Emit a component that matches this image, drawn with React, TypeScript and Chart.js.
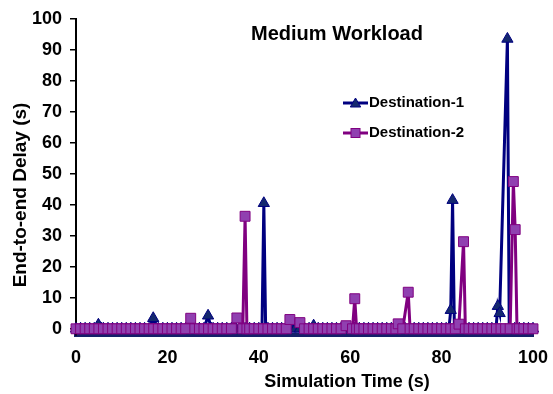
import { useEffect, useRef } from 'react';
import { Chart, registerables } from 'chart.js';

Chart.register(...registerables);

// Delay samples as [simulation time (s), end-to-end delay (s)]
const destination1: [number, number][] = [
  [0, 0], [1, 0], [2, 0], [3, 0], [4, 0], [4.9, 1.3], [5.6, 0], [6, 0], [7, 0], [8, 0], [9, 0],
  [10, 0], [11, 0], [12, 0], [13, 0], [14, 0], [15, 0], [16, 0], [16.9, 3.4], [17.6, 0], [18, 0], [19, 0],
  [20, 0], [21, 0], [22, 0], [23, 0], [24, 0], [25, 0], [26, 0], [27, 0], [28, 0], [28.9, 4.2], [29.6, 0],
  [30, 0], [31, 0], [32, 0], [33, 0], [34, 0], [35, 0], [36, 0], [37, 0], [38, 0], [39, 0],
  [40, 0], [40.7, 0], [41.1, 40.5], [41.5, 0], [42, 0], [43, 0], [44, 0], [45, 0], [46, 0], [47, 0], [48, 0], [49, 0],
  [50, 0], [51, 0], [52, 1], [53, 0], [54, 0], [55, 0], [56, 0], [57, 0], [58, 0], [59, 0],
  [60, 0], [61, 0], [62, 0], [63, 0], [64, 0], [65, 0], [66, 0], [67, 0], [68, 0], [69, 0],
  [70, 0], [71, 0], [72, 0], [73, 0], [74, 0], [75, 0], [76, 0], [77, 0], [78, 0], [79, 0],
  [80, 0], [81, 0], [81.6, 0], [82, 6], [82.4, 41.5], [82.8, 0], [83, 0], [84, 0], [85, 0], [86, 0], [87, 0], [88, 0], [89, 0],
  [90, 0], [91, 0], [91.9, 0], [92.3, 7.3], [92.7, 5], [94.4, 93.5], [94.8, 0], [95, 0], [96, 0], [97, 0], [98, 0], [99, 0],
  [100, 0],
];

const destination2: [number, number][] = [
  [0, 0], [1, 0], [2, 0], [3, 0], [4, 0], [5, 0], [6, 0], [7, 0], [8, 0], [9, 0],
  [10, 0], [11, 0], [12, 0], [13, 0], [14, 0], [15, 0], [16, 0], [17, 0], [18, 0], [19, 0],
  [20, 0], [21, 0], [22, 0], [23, 0], [24, 0], [25.1, 3.4], [26, 0], [27, 0], [28, 0], [29, 0],
  [30, 0], [31, 0], [32, 0], [33, 0], [34, 0], [35.2, 3.5], [36.5, 0], [37, 36.3], [37.4, 0], [38, 0], [39, 0],
  [40, 0], [41, 0], [42, 0], [43, 0], [44, 0], [45, 0], [46, 0], [46.8, 3], [49, 2],
  [50, 0], [51, 0], [52, 0], [53, 0], [54, 0], [55, 0], [56, 0], [57, 0], [58, 0], [59.1, 1], [60.5, 0], [61, 9.7], [61.4, 0],
  [62, 0], [63, 0], [64, 0], [65, 0], [66, 0], [67, 0], [68, 0], [69, 0],
  [70, 0], [70.5, 1.6], [71.5, 0], [72.7, 11.8], [73.1, 0], [74, 0], [75, 0], [76, 0], [77, 0], [78, 0], [79, 0],
  [80, 0], [81, 0], [82, 0], [83, 0], [83.8, 1.5], [84.8, 28.1], [85.2, 0], [86, 0], [87, 0], [88, 0], [89, 0],
  [90, 0], [91, 0], [92, 0], [93, 0], [94, 0], [95, 0], [95.7, 47.5], [96.1, 32], [96.5, 0], [97, 0], [98, 0], [99, 0],
  [100, 0],
];

const seriesNames = ['Destination-1', 'Destination-2'];
const xTickValues = [0, 20, 40, 60, 80, 100];
const yTickValues = [0, 10, 20, 30, 40, 50, 60, 70, 80, 90, 100];
const chartTitle = 'Medium Workload';
const xAxisTitle = 'Simulation Time (s)';
const yAxisTitle = 'End-to-end Delay (s)';

const FONT = '"Liberation Sans", Arial, sans-serif';
const NAVY = '#000080';
const NAVY_FILL = '#14286e';
const PURPLE = '#800080';
const PURPLE_FILL = '#9040b0';

function drawTriangle(ctx: CanvasRenderingContext2D, x: number, y: number, r: number) {
  ctx.beginPath();
  ctx.moveTo(x, y - r);
  ctx.lineTo(x + r * 0.866, y + r * 0.5);
  ctx.lineTo(x - r * 0.866, y + r * 0.5);
  ctx.closePath();
  ctx.fillStyle = NAVY_FILL;
  ctx.fill();
  ctx.lineWidth = 1;
  ctx.strokeStyle = NAVY;
  ctx.stroke();
}

function drawSquare(ctx: CanvasRenderingContext2D, x: number, y: number, half: number) {
  ctx.fillStyle = PURPLE_FILL;
  ctx.fillRect(x - half, y - half, half * 2, half * 2);
  ctx.lineWidth = 1;
  ctx.strokeStyle = PURPLE;
  ctx.strokeRect(x - half, y - half, half * 2, half * 2);
}

// Title, in-plot legend and axis titles
const annotations = {
  id: 'annotations',
  afterDraw(chart: Chart) {
    const ctx = chart.ctx;
    ctx.save();
    ctx.fillStyle = '#000';
    ctx.textBaseline = 'middle';

    ctx.font = `bold 20px ${FONT}`;
    ctx.textAlign = 'center';
    ctx.fillText(chartTitle, 337, 34);

    ctx.font = `bold 18px ${FONT}`;
    ctx.fillText(xAxisTitle, 347, 382);

    ctx.save();
    ctx.translate(21, 195);
    ctx.rotate(-Math.PI / 2);
    ctx.font = `bold 19px ${FONT}`;
    ctx.fillText(yAxisTitle, 0, 0);
    ctx.restore();

    // legend
    const rows = [103, 133];
    const colors = [NAVY, PURPLE];
    ctx.font = `bold 15px ${FONT}`;
    ctx.textAlign = 'left';
    rows.forEach((y, i) => {
      ctx.strokeStyle = colors[i];
      ctx.lineWidth = 3;
      ctx.beginPath();
      ctx.moveTo(343, y);
      ctx.lineTo(368, y);
      ctx.stroke();
      if (i === 0) drawTriangle(ctx, 355.5, y + 1, 6);
      else drawSquare(ctx, 355.5, y, 4.5);
      ctx.fillStyle = '#000';
      ctx.fillText(seriesNames[i], 369, y);
    });
    ctx.restore();
  },
};

export default function App() {
  const canvasRef = useRef<HTMLCanvasElement | null>(null);

  useEffect(() => {
    const canvas = canvasRef.current;
    if (!canvas) return;
    const tickFont = { family: FONT, size: 18, weight: 'bold' as const };
    const chart = new Chart(canvas, {
      type: 'scatter',
      data: {
        datasets: [
          {
            label: seriesNames[1],
            data: destination2.map(([x, y]) => ({ x, y })),
            showLine: true,
            borderColor: PURPLE,
            backgroundColor: PURPLE_FILL,
            borderWidth: 3,
            pointStyle: 'rect',
            pointRadius: 7,
            pointBorderWidth: 1,
            pointBorderColor: PURPLE,
            pointBackgroundColor: PURPLE_FILL,
            clip: false as any,
            order: 0,
          },
          {
            label: seriesNames[0],
            data: destination1.map(([x, y]) => ({ x, y })),
            showLine: true,
            borderColor: NAVY,
            backgroundColor: NAVY_FILL,
            borderWidth: 3,
            pointStyle: 'triangle',
            pointRadius: 6.5,
            pointBorderWidth: 1,
            pointBorderColor: NAVY,
            pointBackgroundColor: NAVY_FILL,
            clip: false as any,
            order: 1,
          },
        ],
      },
      options: {
        animation: false,
        responsive: false,
        devicePixelRatio: 1,
        events: [],
        layout: { padding: { top: 15, right: 20, left: 0, bottom: 0 } },
        plugins: { legend: { display: false }, tooltip: { enabled: false } },
        scales: {
          x: {
            type: 'linear',
            min: 0,
            max: 100,
            afterBuildTicks: (scale: any) => {
              scale.ticks = xTickValues.map((value) => ({ value }));
            },
            afterFit: (scale: any) => {
              scale.height = 59;
            },
            ticks: { font: tickFont, color: '#000', padding: 4, maxRotation: 0 },
            grid: { display: false },
            border: { display: true, color: '#14206a', width: 4 },
          },
          y: {
            type: 'linear',
            min: -2,
            max: 100,
            afterBuildTicks: (scale: any) => {
              scale.ticks = yTickValues.map((value) => ({ value }));
            },
            afterFit: (scale: any) => {
              scale.width = 76;
            },
            ticks: { font: tickFont, color: '#000', padding: 8 },
            grid: {
              display: true,
              drawOnChartArea: false,
              drawTicks: true,
              tickLength: 6,
              color: '#000',
              lineWidth: 1.5,
            },
            border: { display: true, color: '#000', width: 2 },
          },
        },
      },
      plugins: [annotations],
    });
    return () => chart.destroy();
  }, []);

  return (
    <div style={{ position: 'absolute', left: 0, top: 0, width: 553, height: 394, background: '#fff' }}>
      <canvas ref={canvasRef} width={553} height={394} />
    </div>
  );
}
